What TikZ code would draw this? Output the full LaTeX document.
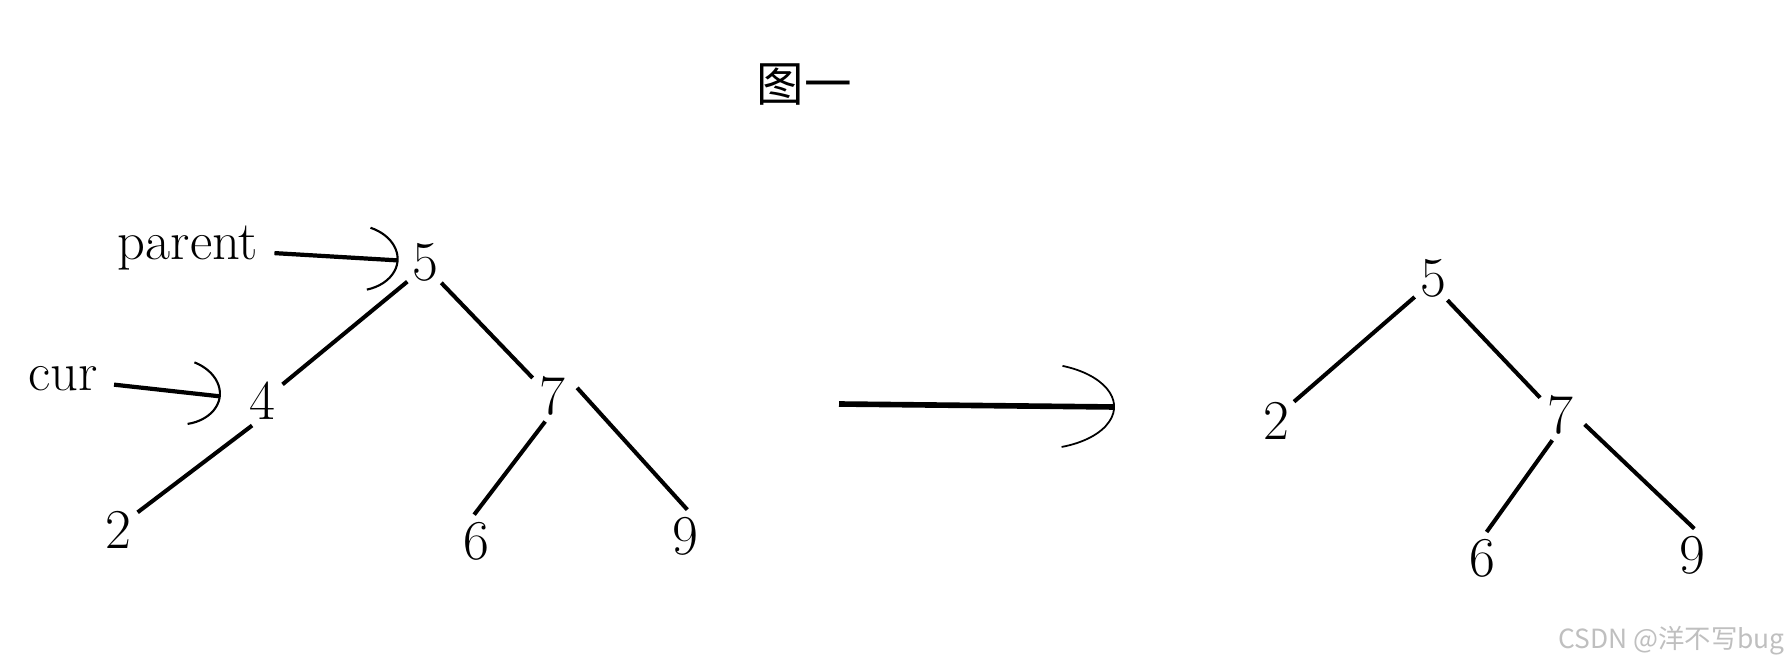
\documentclass[tikz,border=0pt]{standalone}
\usepackage{fontspec}
\newfontfamily\cjk{Noto Sans CJK SC}
\usetikzlibrary{arrows.meta}
\begin{document}
\begin{tikzpicture}[x=0.01cm, y=-0.01cm, thick]
\useasboundingbox (0,0) rectangle (1786,655);
\tikzstyle{every node} = [circle, minimum size=.5cm, inner sep=0pt, font=\fontsize{16}{19}\selectfont]
% before
\node (l5) at (425,262) {5};
\node (l4) at (262,401) {4};
\node (l7) at (552,396) {7};
\node (l2) at (118,530) {2};
\node (l6) at (476,541) {6};
\node (l9) at (685,536) {9};
% after
\node (r5) at (1433,278) {5};
\node (r2) at (1276,421) {2};
\node (r7) at (1560,415) {7};
\node (r6) at (1482,558) {6};
\node (r9) at (1692,555) {9};
\tikzstyle{every node} = [inner sep=.15cm, font=\fontsize{15.5}{18}\selectfont]
\node (parent) at (188,248) {parent};
\node (cur) at (63,379) {cur};
\node[font=\cjk\fontsize{13.5}{16}\selectfont] (title) at (804,85) {图一};
\node[anchor=east, inner sep=0pt, text=gray!50, font=\cjk\fontsize{7.5}{9}\selectfont] (mark) at (1786,641) {CSDN @洋不写bug};
\tikzstyle{edge} = [line width=1.15pt]
\draw[edge] (l5.228) -- (l4.39);
\draw[edge] (l5.308) -- (l7.137);
\draw[edge] (l4.248) -- (l2.42);
\draw[edge] (l7.255) -- (l6.94);
\draw[edge] (l7.18) -- (l9.85);
\draw[edge] (r5.226) -- (r2.47);
\draw[edge] (r5.303) -- (r7.139);
\draw[edge] (r7.253) -- (r6.80);
\draw[edge] (r7.339) -- (r9.85);
\tikzstyle{pointer} = [line width=1.2pt, -{Arc Barb[arc=140, length=.45cm, width=.68cm, line width=.6pt]}]
\draw[pointer] (parent) -- (l5);
\draw[pointer, shorten >=.15cm] (cur) -- (l4);
\coordinate (from) at (839,404);
\coordinate (to) at (1115,407);
\draw[line width=1.6pt, -{Arc Barb[arc=140, length=.8cm, width=.88cm, line width=.5pt]}] (from) -- (to);
\end{tikzpicture}
\end{document}
